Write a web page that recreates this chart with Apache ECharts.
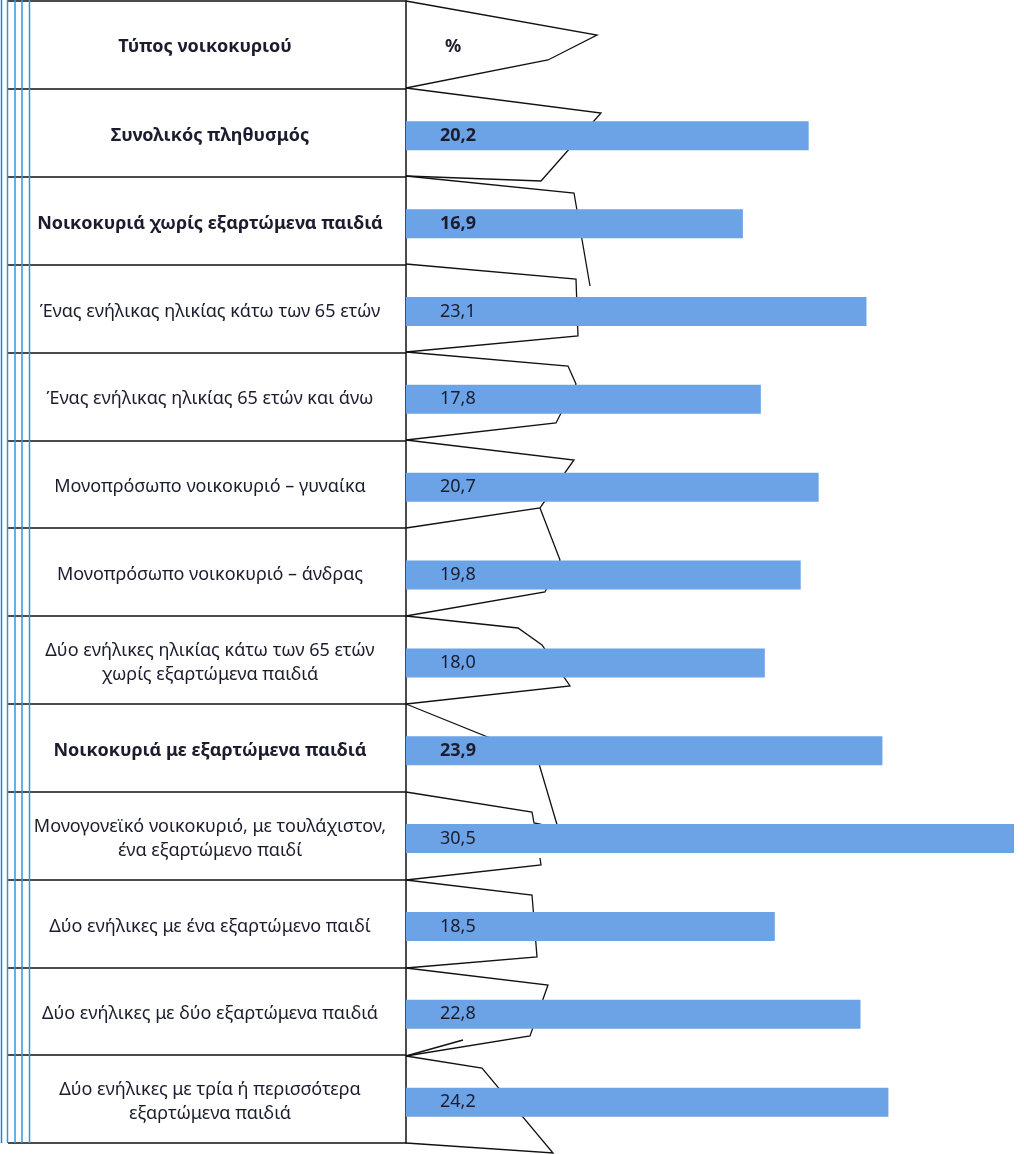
<!DOCTYPE html>
<html><head><meta charset="utf-8">
<script src="https://cdn.jsdelivr.net/npm/echarts@6/dist/echarts.min.js"></script>
<style>html,body{margin:0;padding:0;background:#fff}#c{width:1024px;height:1154px}</style>
</head><body><div id="c"></div>
<script>
// ---- data ----
const headerLabel = 'Τύπος νοικοκυριού';
const valueHeader = '%';
const categories = [
  'Συνολικός πληθυσμός',
  'Νοικοκυριά χωρίς εξαρτώμενα παιδιά',
  'Ένας ενήλικας ηλικίας κάτω των 65 ετών',
  'Ένας ενήλικας ηλικίας 65 ετών και άνω',
  'Μονοπρόσωπο νοικοκυριό – γυναίκα',
  'Μονοπρόσωπο νοικοκυριό – άνδρας',
  'Δύο ενήλικες ηλικίας κάτω των 65 ετών\nχωρίς εξαρτώμενα παιδιά',
  'Νοικοκυριά με εξαρτώμενα παιδιά',
  'Μονογονεϊκό νοικοκυριό, με τουλάχιστον,\nένα εξαρτώμενο παιδί',
  'Δύο ενήλικες με ένα εξαρτώμενο παιδί',
  'Δύο ενήλικες με δύο εξαρτώμενα παιδιά',
  'Δύο ενήλικες με τρία ή περισσότερα\nεξαρτώμενα παιδιά'
];
const values = [20.2, 16.9, 23.1, 17.8, 20.7, 19.8, 18.0, 23.9, 30.5, 18.5, 22.8, 24.2];
const boldCategories = ['Συνολικός πληθυσμός', 'Νοικοκυριά χωρίς εξαρτώμενα παιδιά', 'Νοικοκυριά με εξαρτώμενα παιδιά'];

// ---- layout / style ----
const FONT = 'Noto Sans';
const TEXT = '#1b1d2e';
const BAR = '#6ba3e6';
const FS = 18;
const TOP = 1, ROW_H = 87.85, NROWS = categories.length + 1;
const TABLE_L = 8, DIVIDER = 406, SHIFT = 3;

// decorative broken-outline strokes seen in the picture (not data)
const decoStrokes = [
  [[406,1],[597,35],[548,60],[406,88]],
  [[406,88],[601,113],[541,181],[406,176]],
  [[406,176],[574,193],[590,286]],
  [[406,264],[576,279],[578,336],[406,352]],
  [[406,352],[568,366],[576,384],[556,423],[406,440]],
  [[406,440],[574,460],[540,508],[406,528]],
  [[540,508],[560,560],[545,592],[406,616]],
  [[406,616],[518,628],[542,645],[570,686],[406,704]],
  [[406,704],[537,757],[558,828],[534,823],[532,812],[406,792]],
  [[406,880],[541,865],[540,858]],
  [[406,880],[532,895],[537,957],[406,968]],
  [[406,968],[548,985],[530,1036],[406,1056]],
  [[406,1056],[463,1040]],
  [[406,1056],[482,1068],[553,1153],[406,1143]]
];

const boldSet = new Set(boldCategories);
const chart = echarts.init(document.getElementById('c'), null, {renderer: 'canvas'});

const blueLines = [1.5, 7.5, 15, 22, 29.5].map((x, i) => ({
  type: 'line', z: 5,
  shape: {x1: x, y1: 0, x2: x, y2: TOP + ROW_H * NROWS},
  style: {stroke: i === 0 ? '#1a86d8' : '#3596d4', lineWidth: 1.5}
}));

const option = {
  backgroundColor: '#ffffff',
  animation: false,
  grid: [
    {left: TABLE_L, top: TOP, width: DIVIDER - TABLE_L, height: ROW_H * NROWS},
    {left: DIVIDER, top: TOP + ROW_H + SHIFT, width: 608, height: ROW_H * (NROWS - 1)}
  ],
  xAxis: [
    {gridIndex: 0, type: 'value', show: false, min: 0, max: 1, splitLine: {show: false}, axisLine: {show: false}},
    {gridIndex: 1, type: 'value', show: false, min: 0, max: 30.5, splitLine: {show: false}, axisLine: {show: false}}
  ],
  yAxis: [
    {
      gridIndex: 0, type: 'category', inverse: true, position: 'right',
      data: [headerLabel].concat(categories),
      axisLine: {show: true, onZero: false, lineStyle: {color: '#111', width: 1.5}},
      axisTick: {show: false},
      axisLabel: {show: false},
      splitLine: {show: true, lineStyle: {color: '#111', width: 1.5}}
    },
    {
      gridIndex: 1, type: 'category', inverse: true, data: categories,
      axisLine: {show: false}, axisTick: {show: false},
      axisLabel: {
        interval: 0, margin: 196, align: 'center',
        fontFamily: FONT, fontSize: FS, color: TEXT, lineHeight: 24,
        formatter: v => boldSet.has(v) ? '{b|' + v + '}' : v,
        rich: {b: {fontFamily: FONT, fontSize: FS, fontWeight: 'bold', color: TEXT}}
      }
    }
  ],
  series: [{
    type: 'bar', xAxisIndex: 1, yAxisIndex: 1, z: 3,
    data: values, barWidth: 29,
    itemStyle: {color: BAR},
    label: {
      show: true, position: [34, '50%'], verticalAlign: 'middle', align: 'left',
      fontFamily: FONT, fontSize: FS, color: TEXT,
      formatter: p => {
        const s = p.value.toFixed(1).replace('.', ',');
        return boldSet.has(p.name) ? '{b|' + s + '}' : s;
      },
      rich: {b: {fontFamily: FONT, fontSize: FS, fontWeight: 'bold', color: TEXT}}
    }
  }],
  graphic: [
    ...blueLines,
    {type: 'text', z: 5, x: 205, y: TOP + ROW_H / 2 + 2,
     style: {text: headerLabel, font: 'bold ' + FS + 'px "' + FONT + '"', fill: TEXT, align: 'center', verticalAlign: 'middle'}},
    {type: 'text', z: 5, x: 453, y: TOP + ROW_H / 2 + 2,
     style: {text: valueHeader, font: 'bold ' + FS + 'px "' + FONT + '"', fill: TEXT, align: 'center', verticalAlign: 'middle'}},
    ...decoStrokes.map(pts => ({type: 'polyline', z: 0, shape: {points: pts}, style: {stroke: '#111', lineWidth: 1.3, fill: null}}))
  ]
};
chart.setOption(option);
</script></body></html>
